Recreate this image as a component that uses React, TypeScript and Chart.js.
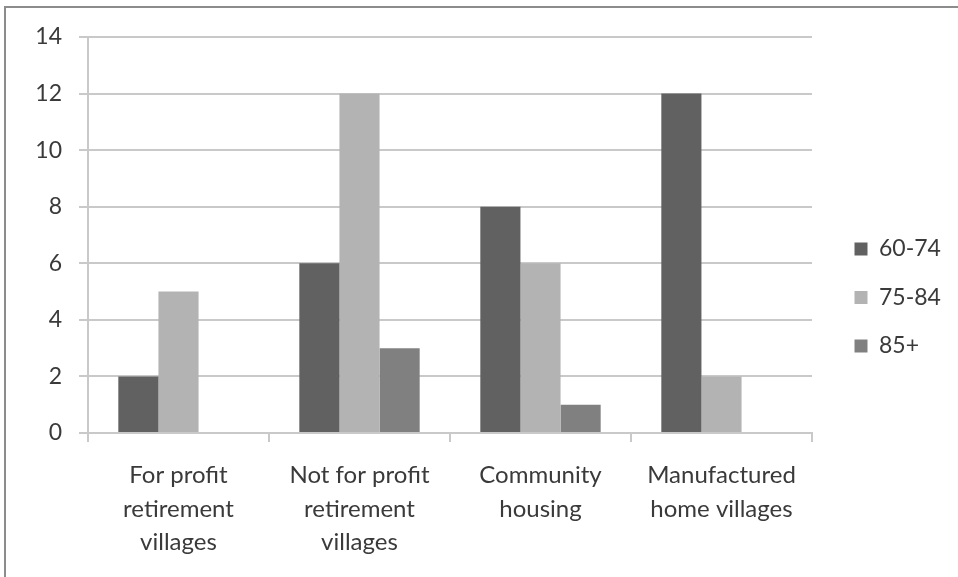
import React, { useEffect, useRef } from "react";
import { Chart, registerables } from "chart.js";

Chart.register(...registerables);

const categories: string[][] = [
  ["For profit", "retirement", "villages"],
  ["Not for profit", "retirement", "villages"],
  ["Community", "housing"],
  ["Manufactured", "home villages"],
];
const seriesNames = ["60-74", "75-84", "85+"];
const age60to74 = [2, 6, 8, 12];
const age75to84 = [5, 12, 6, 2];
const age85plus = [0, 3, 1, 0];
const seriesColors = ["#616161", "#b3b3b3", "#808080"];
const yTicks = { min: 0, max: 14, step: 2 };

const FONT = "Lato, 'Open Sans', sans-serif";
const TEXT = "#3a3a3a";
const GRID = "#c9c9c9";

export default function App() {
  const ref = useRef<HTMLCanvasElement | null>(null);

  useEffect(() => {
    if (!ref.current) return;
    const frame = {
      id: "frame",
      beforeDraw(chart: any) {
        const ctx = chart.ctx;
        ctx.save();
        ctx.fillStyle = "#ffffff";
        ctx.fillRect(0, 0, chart.width, chart.height);
        ctx.strokeStyle = "#8c8c8c";
        ctx.lineWidth = 2;
        ctx.beginPath();
        ctx.moveTo(5, chart.height);
        ctx.lineTo(5, 7);
        ctx.lineTo(chart.width, 7);
        ctx.stroke();
        ctx.restore();
      },
      beforeLayout(chart: any) {
        const lg = chart.legend;
        if (lg && !lg.__patched) {
          const origFit = Object.getPrototypeOf(lg).fit;
          lg.fit = function () {
            origFit.call(this);
            this.width = 146;
          };
          lg.__patched = true;
        }
      },
      afterLayout(chart: any) {
        const lg = chart.legend;
        if (lg) {
          lg.left = 829;
          lg.right = 958;
          lg.top = 203;
          lg.bottom = 392;
        }
      },
    };

    const chart = new Chart(ref.current, {
      type: "bar",
      data: {
        labels: categories,
        datasets: [
          { label: seriesNames[0], data: age60to74, backgroundColor: seriesColors[0], borderWidth: 0 },
          { label: seriesNames[1], data: age75to84, backgroundColor: seriesColors[1], borderWidth: 0 },
          { label: seriesNames[2], data: age85plus, backgroundColor: seriesColors[2], borderWidth: 0 },
        ],
      },
      plugins: [frame],
      options: {
        responsive: false,
        animation: false,
        layout: { padding: { top: 37, left: 0, right: 0, bottom: 0 } },
        datasets: { bar: { categoryPercentage: 0.665, barPercentage: 1 } },
        plugins: {
          tooltip: { enabled: false },
          legend: {
            position: "right",
            align: "center",
            labels: {
              boxWidth: 13,
              boxHeight: 13,
              padding: 25.5,
              color: TEXT,
              font: { family: FONT, size: 23 },
            },
          },
        },
        scales: {
          x: {
            offset: true,
            grid: {
              offset: true,
              drawOnChartArea: false,
              drawTicks: true,
              tickLength: 9,
              color: GRID,
              lineWidth: 2,
            },
            border: { display: true, color: GRID, width: 2 },
            ticks: {
              color: TEXT,
              padding: 17,
              maxRotation: 0,
              autoSkip: false,
              font: { family: FONT, size: 24, lineHeight: 1.39 },
            },
            afterFit(scale: any) {
              scale.height = 144;
            },
          },
          y: {
            min: yTicks.min,
            max: yTicks.max,
            grid: { color: GRID, lineWidth: 2, tickLength: 9 },
            border: { display: true, color: GRID, width: 2 },
            ticks: {
              stepSize: yTicks.step,
              color: TEXT,
              padding: 17,
              font: { family: FONT, size: 23 },
            },
            afterFit(scale: any) {
              scale.width = 88;
            },
          },
        },
      },
    } as any);
    return () => chart.destroy();
  }, []);

  return (
    <div style={{ position: "absolute", left: 0, top: 0, width: 958, height: 577, background: "#fff" }}>
      <canvas ref={ref} width={958} height={577} style={{ display: "block" }} />
    </div>
  );
}
